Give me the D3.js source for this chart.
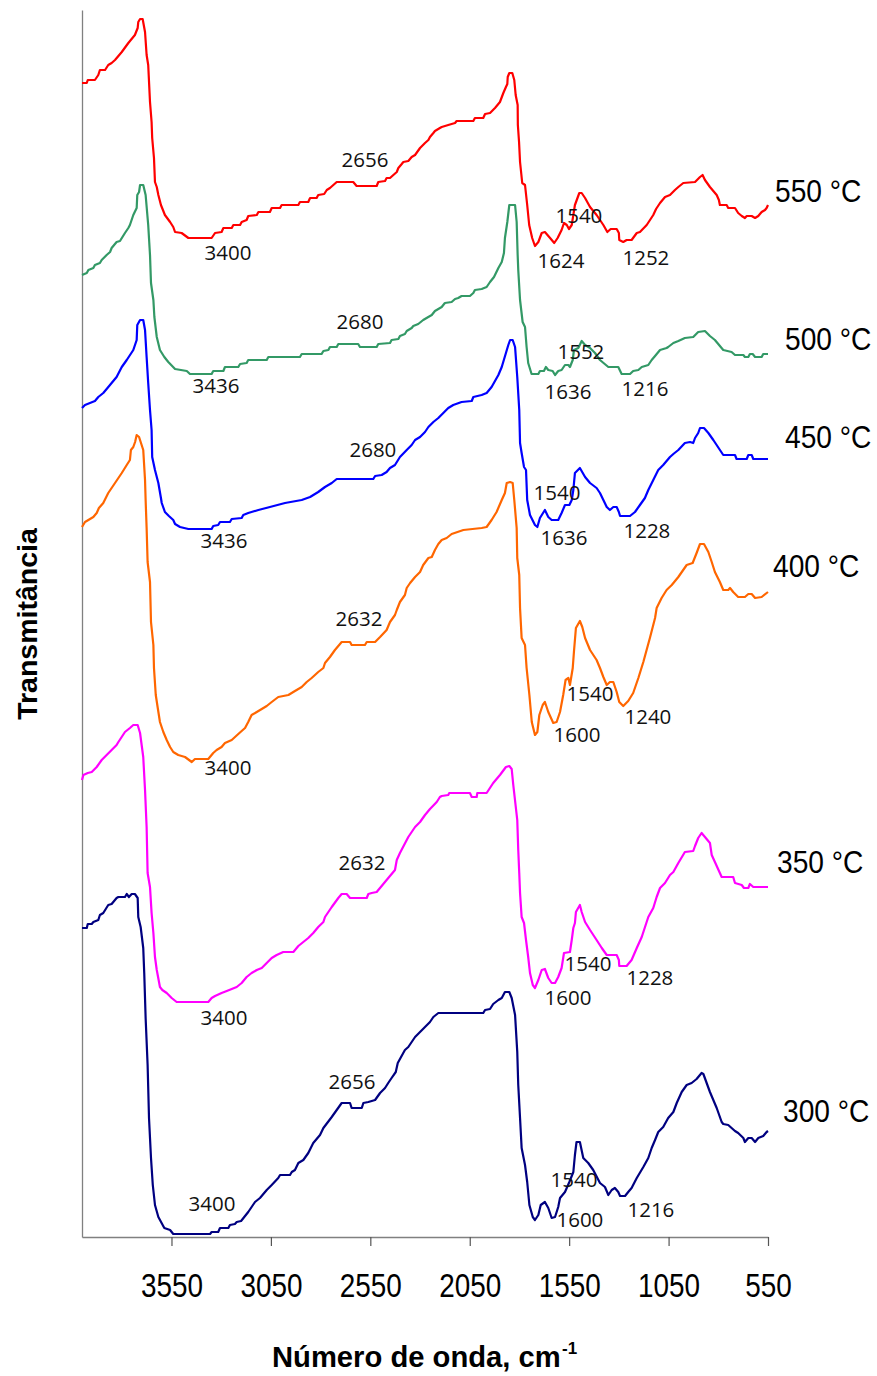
<!DOCTYPE html>
<html><head><meta charset="utf-8">
<script src="https://cdn.jsdelivr.net/npm/d3@7"></script>
<style>body{margin:0;background:#fff}svg{display:block}</style>
</head><body>
<svg id="c" width="877" height="1376"></svg>
<script>
// ---------- data (wavenumber cm-1, transmittance arbitrary offset units) ----------
const xTicks = [3550, 3050, 2550, 2050, 1550, 1050, 550];
const temperatures = ["550 °C", "500 °C", "450 °C", "400 °C", "350 °C", "300 °C"];
const colors = ["#ff0000", "#339966", "#0000ff", "#ff6600", "#ff00ff", "#000080"];
const tempLabelT = [103.5, 88.7, 78.9, 66.0, 36.4, 11.5];

const s550 = [[4000,115.4],[3976,115.4],[3971,115.7],[3935,115.7],[3918,116.2],[3910,116.7],[3884,116.7],[3868,117.2],[3851,117.4],[3834,117.7],[3800,118.5],[3767,119.4],[3734,120.2],[3720,120.9],[3717,121.5],[3708,121.8],[3695,121.8],[3683,120.5],[3675,118.2],[3667,117.2],[3658,113.5],[3650,111.5],[3647,109.9],[3638,107.9],[3633,105.5],[3624,105.0],[3616,104.2],[3603,103.2],[3583,102.2],[3557,101.5],[3541,101.0],[3532,100.5],[3499,100.4],[3465,99.9],[3348,99.9],[3331,100.4],[3298,100.5],[3289,100.9],[3247,100.9],[3239,101.2],[3205,101.2],[3197,101.5],[3172,101.7],[3164,102.1],[3121,102.2],[3113,102.5],[3055,102.5],[3046,102.9],[3004,102.9],[2996,103.2],[2912,103.2],[2904,103.5],[2862,103.5],[2853,103.9],[2820,103.9],[2812,104.2],[2782,104.3],[2769,104.7],[2753,104.9],[2719,105.5],[2636,105.5],[2619,105.1],[2518,105.1],[2510,105.5],[2476,105.6],[2468,105.9],[2451,105.9],[2417,106.5],[2409,106.9],[2392,107.3],[2384,107.5],[2359,107.6],[2342,108.0],[2325,108.2],[2300,108.9],[2275,109.4],[2258,109.7],[2250,110.0],[2233,110.4],[2225,110.6],[2200,110.9],[2191,111.0],[2158,111.2],[2124,111.4],[2116,111.6],[2032,111.6],[2024,111.9],[1982,111.9],[1973,112.3],[1948,112.4],[1923,112.9],[1898,113.5],[1881,114.4],[1868,115.0],[1861,115.3],[1859,116.0],[1851,116.4],[1836,116.4],[1826,115.7],[1819,114.2],[1809,113.2],[1808,111.2],[1802,109.5],[1797,107.5],[1786,105.4],[1772,105.2],[1761,103.2],[1751,101.2],[1736,99.9],[1722,99.1],[1705,99.5],[1688,100.4],[1672,100.5],[1646,99.9],[1625,99.4],[1608,99.9],[1588,100.7],[1576,101.4],[1562,101.2],[1551,100.8],[1537,101.2],[1521,103.2],[1499,104.4],[1487,104.4],[1470,103.9],[1445,103.0],[1412,102.2],[1378,101.2],[1358,100.5],[1341,100.8],[1311,100.8],[1300,100.4],[1298,99.7],[1278,99.5],[1261,99.7],[1236,99.7],[1210,100.4],[1194,100.5],[1160,101.2],[1127,102.2],[1113,102.8],[1093,103.4],[1068,104.0],[1043,104.2],[1018,104.7],[1001,105.0],[976,105.4],[917,105.5],[892,106.0],[879,106.2],[867,105.7],[842,105.0],[808,104.2],[797,103.7],[792,103.2],[758,103.2],[750,102.9],[716,102.9],[700,102.4],[682,102.1],[666,101.9],[657,102.1],[632,102.1],[615,101.9],[599,102.1],[582,102.5],[565,102.7],[557,102.9],[550,103.2]];

const s500 = [[4000,96.2],[3976,96.4],[3968,96.7],[3943,96.9],[3935,97.2],[3910,97.4],[3901,97.7],[3876,98.2],[3859,98.5],[3851,98.9],[3826,99.5],[3809,99.6],[3784,100.4],[3767,100.9],[3759,101.2],[3742,102.2],[3725,102.9],[3722,104.2],[3713,104.5],[3708,105.2],[3692,105.2],[3680,104.2],[3667,101.2],[3658,98.2],[3653,95.4],[3641,93.7],[3636,92.0],[3624,90.0],[3608,88.7],[3586,88.0],[3566,87.5],[3532,86.8],[3473,86.6],[3457,86.3],[3348,86.3],[3340,86.6],[3289,86.6],[3281,87.0],[3214,87.0],[3205,87.3],[3172,87.4],[3164,87.7],[3071,87.7],[3063,88.0],[2904,88.0],[2895,88.3],[2795,88.3],[2786,88.6],[2761,88.7],[2753,89.0],[2719,89.0],[2711,89.3],[2611,89.3],[2602,89.0],[2518,89.0],[2510,89.3],[2451,89.4],[2443,89.7],[2409,89.8],[2401,90.1],[2376,90.3],[2367,90.6],[2342,90.9],[2334,91.1],[2309,91.3],[2284,91.7],[2267,91.9],[2241,92.2],[2225,92.6],[2208,92.8],[2191,93.0],[2175,93.4],[2141,93.5],[2124,93.8],[2108,93.9],[2091,94.1],[2049,94.1],[2032,94.4],[2024,94.7],[1990,94.8],[1965,95.0],[1948,95.5],[1928,96.0],[1906,96.9],[1889,97.5],[1878,98.4],[1873,99.9],[1861,101.5],[1851,103.2],[1822,103.2],[1814,101.5],[1809,98.2],[1806,96.7],[1797,93.7],[1784,91.5],[1772,91.0],[1764,89.0],[1756,87.4],[1739,86.3],[1705,86.3],[1697,86.6],[1677,86.6],[1667,87.0],[1655,86.7],[1633,86.6],[1621,86.2],[1605,86.6],[1588,86.7],[1571,87.2],[1554,87.2],[1546,87.0],[1532,87.7],[1526,88.7],[1504,88.9],[1487,89.6],[1470,89.2],[1445,88.9],[1420,88.4],[1395,87.7],[1353,87.0],[1303,87.0],[1286,86.3],[1244,86.3],[1228,86.6],[1202,86.7],[1185,87.0],[1152,87.2],[1135,87.7],[1118,88.1],[1093,88.7],[1060,88.9],[1052,89.0],[1026,89.4],[1001,89.6],[968,89.9],[926,90.0],[901,90.5],[867,90.6],[842,90.1],[817,89.7],[775,88.7],[733,88.5],[716,88.2],[674,88.2],[666,88.0],[649,88.0],[641,88.3],[627,88.3],[615,88.0],[582,88.0],[574,88.3],[550,88.3]];

const s450 = [[4000,82.9],[3985,83.2],[3960,83.4],[3935,83.6],[3918,84.0],[3893,84.4],[3876,84.8],[3851,85.4],[3826,86.0],[3800,87.0],[3775,87.7],[3742,88.7],[3725,89.7],[3722,91.2],[3708,91.7],[3692,91.7],[3683,90.7],[3675,88.0],[3667,85.4],[3658,82.7],[3650,80.7],[3647,78.0],[3633,76.7],[3616,75.4],[3603,73.9],[3599,73.4],[3583,72.5],[3563,72.1],[3541,71.7],[3532,71.3],[3507,71.0],[3465,70.8],[3348,70.8],[3340,71.1],[3315,71.2],[3306,71.5],[3256,71.5],[3247,71.8],[3197,71.9],[3189,72.2],[3164,72.4],[3113,72.7],[3055,73.0],[2979,73.4],[2895,73.7],[2853,74.0],[2812,74.5],[2778,75.0],[2744,75.4],[2719,75.8],[2535,75.8],[2526,76.1],[2493,76.2],[2468,76.5],[2451,76.9],[2426,77.2],[2401,78.0],[2367,78.7],[2342,79.2],[2325,79.7],[2300,80.0],[2275,80.5],[2258,81.0],[2233,81.5],[2208,81.9],[2183,82.4],[2158,82.9],[2133,83.2],[2091,83.5],[2040,83.6],[2032,84.0],[1990,84.2],[1965,84.4],[1940,85.0],[1906,86.2],[1889,87.0],[1868,88.4],[1856,89.2],[1847,89.7],[1834,89.7],[1822,89.0],[1811,86.0],[1801,82.7],[1797,79.4],[1789,78.4],[1777,77.0],[1767,76.7],[1761,73.7],[1747,72.2],[1722,71.2],[1710,71.0],[1697,71.9],[1672,72.7],[1655,72.0],[1638,71.7],[1605,71.7],[1588,72.4],[1571,73.2],[1549,73.2],[1537,73.7],[1529,74.7],[1521,76.4],[1496,76.9],[1470,76.0],[1445,75.4],[1412,74.9],[1395,74.4],[1378,73.7],[1361,73.0],[1345,72.7],[1328,73.0],[1311,73.0],[1300,72.5],[1294,72.1],[1244,72.1],[1219,72.5],[1194,73.2],[1169,73.9],[1152,74.7],[1127,75.7],[1102,76.7],[1077,77.2],[1043,78.0],[1026,78.3],[1001,78.7],[968,79.4],[942,79.5],[926,79.4],[917,79.9],[901,80.4],[892,80.9],[872,80.9],[850,80.4],[825,79.7],[775,78.2],[716,78.2],[708,77.8],[657,77.8],[649,78.2],[632,78.2],[624,77.8],[550,77.8]];

const s400 = [[4000,71.0],[3985,71.5],[3968,71.7],[3943,72.0],[3926,72.4],[3915,72.9],[3893,73.4],[3868,74.4],[3834,75.4],[3800,76.4],[3775,77.2],[3759,77.7],[3754,78.7],[3742,79.0],[3733,79.5],[3725,80.2],[3713,80.0],[3692,78.7],[3683,75.7],[3680,73.7],[3675,70.9],[3670,67.5],[3658,65.5],[3653,61.5],[3641,59.2],[3638,56.9],[3629,54.2],[3619,52.9],[3608,51.5],[3591,50.5],[3574,49.7],[3557,49.0],[3541,48.5],[3516,48.2],[3482,48.0],[3448,47.5],[3432,47.8],[3365,47.8],[3340,48.4],[3323,48.7],[3298,49.0],[3281,49.4],[3247,49.7],[3214,50.3],[3180,50.9],[3164,51.5],[3147,52.2],[3121,52.5],[3096,52.8],[3071,53.1],[3046,53.5],[3013,54.0],[2962,54.2],[2929,54.6],[2895,55.0],[2870,55.5],[2845,55.9],[2812,56.5],[2786,56.9],[2778,57.4],[2753,58.0],[2728,58.7],[2694,59.5],[2652,59.5],[2644,59.2],[2577,59.2],[2568,59.5],[2526,59.5],[2501,60.0],[2468,60.7],[2451,61.5],[2426,62.2],[2417,62.7],[2401,63.5],[2376,64.2],[2367,64.9],[2350,65.4],[2325,66.0],[2300,66.5],[2284,67.2],[2258,67.9],[2241,68.0],[2225,68.7],[2208,69.3],[2191,69.7],[2166,69.9],[2141,70.3],[2082,70.7],[1990,70.9],[1965,71.0],[1940,71.7],[1915,72.5],[1889,73.7],[1873,74.4],[1864,75.4],[1847,75.5],[1834,75.4],[1826,73.7],[1814,70.9],[1811,67.9],[1801,66.2],[1797,62.9],[1789,59.9],[1772,59.2],[1764,56.9],[1750,54.2],[1738,51.5],[1722,50.2],[1710,50.5],[1700,52.2],[1683,53.2],[1672,53.5],[1655,52.5],[1630,51.4],[1613,51.5],[1596,52.5],[1580,54.2],[1568,55.7],[1554,55.9],[1546,55.2],[1532,56.9],[1526,58.5],[1516,60.9],[1496,61.6],[1484,61.0],[1470,59.9],[1445,58.7],[1412,57.7],[1395,56.9],[1378,56.0],[1361,55.2],[1345,55.5],[1328,55.5],[1311,54.5],[1298,53.5],[1278,53.1],[1253,53.6],[1228,54.4],[1202,55.9],[1177,57.5],[1144,59.9],[1118,61.9],[1110,62.9],[1085,63.9],[1060,64.7],[1034,65.2],[1001,66.0],[959,67.2],[929,67.4],[909,68.4],[892,69.3],[872,69.3],[850,68.5],[833,67.5],[817,66.5],[792,65.5],[775,64.7],[750,64.7],[741,64.9],[725,64.5],[700,64.0],[666,64.0],[649,64.3],[632,64.3],[615,63.9],[582,64.0],[550,64.5]];

const s350 = [[4000,45.7],[3993,46.2],[3971,46.4],[3951,46.5],[3926,47.0],[3901,47.7],[3876,48.2],[3851,48.7],[3826,49.2],[3817,49.5],[3784,50.5],[3759,50.9],[3742,51.2],[3720,51.2],[3708,50.4],[3700,49.2],[3692,48.0],[3683,44.7],[3675,41.0],[3670,36.4],[3658,35.0],[3650,32.4],[3641,30.4],[3633,28.0],[3624,26.7],[3608,25.0],[3596,24.7],[3574,24.4],[3549,23.9],[3524,23.5],[3365,23.5],[3348,23.9],[3331,24.1],[3298,24.4],[3272,24.6],[3247,24.8],[3222,25.0],[3197,25.4],[3172,26.0],[3147,26.4],[3121,26.7],[3096,26.9],[3071,27.4],[3046,27.9],[3021,28.2],[2988,28.5],[2937,28.5],[2912,29.1],[2887,29.5],[2862,29.9],[2837,30.4],[2812,31.0],[2786,31.5],[2778,32.0],[2744,33.0],[2711,33.9],[2694,34.3],[2669,34.3],[2652,33.9],[2568,33.9],[2560,34.3],[2543,34.4],[2518,34.5],[2468,35.7],[2426,36.7],[2417,37.7],[2401,38.4],[2359,40.0],[2325,41.0],[2300,41.5],[2275,42.2],[2250,42.8],[2216,43.5],[2200,44.0],[2191,44.1],[2158,44.2],[2153,44.4],[2049,44.4],[2040,44.0],[2015,44.0],[2012,44.4],[1965,44.4],[1932,45.4],[1898,46.2],[1868,47.0],[1851,47.1],[1839,46.8],[1831,45.2],[1811,41.7],[1806,38.7],[1801,36.4],[1797,34.4],[1789,32.0],[1777,31.4],[1767,29.7],[1756,28.0],[1747,26.4],[1733,25.2],[1722,24.9],[1705,25.7],[1688,26.7],[1672,26.8],[1655,25.9],[1638,25.4],[1621,25.4],[1605,26.0],[1588,26.9],[1576,28.4],[1546,28.5],[1537,29.7],[1529,30.9],[1521,31.4],[1516,32.5],[1496,33.2],[1487,32.5],[1470,31.5],[1445,30.7],[1412,29.7],[1386,28.9],[1361,28.2],[1311,28.2],[1300,27.7],[1298,27.1],[1261,27.1],[1236,27.7],[1210,28.9],[1185,30.0],[1152,32.0],[1127,32.9],[1110,34.0],[1093,34.9],[1068,35.4],[1043,36.2],[1026,36.5],[1001,37.4],[968,38.5],[926,38.6],[917,39.1],[901,39.9],[884,40.4],[867,40.0],[842,39.4],[833,38.2],[817,37.5],[783,36.0],[725,36.0],[716,35.4],[682,35.2],[671,34.9],[649,34.9],[641,35.3],[624,35.0],[550,35.0]];

const s300 = [[4000,30.9],[3976,30.9],[3971,31.3],[3951,31.3],[3943,31.5],[3918,31.7],[3910,32.2],[3893,32.4],[3868,33.2],[3851,33.3],[3826,33.9],[3817,34.0],[3784,34.0],[3775,34.3],[3764,34.0],[3750,34.3],[3734,34.3],[3720,33.9],[3717,32.0],[3705,31.0],[3692,28.9],[3687,26.4],[3680,21.9],[3670,17.2],[3663,11.9],[3653,7.9],[3644,5.2],[3633,3.2],[3616,2.0],[3586,0.9],[3557,0.7],[3541,0.3],[3356,0.3],[3348,0.5],[3315,0.5],[3306,0.9],[3264,0.9],[3256,1.2],[3231,1.3],[3222,1.5],[3200,1.6],[3164,2.5],[3130,3.5],[3105,3.9],[3071,4.7],[3046,5.2],[3013,5.9],[3004,6.2],[2954,6.2],[2945,6.5],[2929,6.7],[2912,7.4],[2887,7.7],[2862,8.4],[2837,9.4],[2803,10.2],[2786,10.9],[2744,12.0],[2694,13.4],[2652,13.4],[2644,12.9],[2593,12.9],[2585,13.4],[2560,13.5],[2526,13.7],[2501,14.4],[2476,14.9],[2460,15.4],[2443,15.9],[2422,16.5],[2412,17.4],[2376,18.7],[2359,19.0],[2325,20.0],[2300,20.5],[2275,21.0],[2250,21.5],[2233,22.0],[2208,22.4],[1982,22.4],[1973,22.7],[1948,22.8],[1932,23.3],[1906,23.7],[1889,23.9],[1873,24.5],[1851,24.5],[1839,23.9],[1822,22.2],[1811,18.5],[1806,15.2],[1797,11.9],[1789,8.9],[1772,7.2],[1761,5.5],[1750,3.2],[1733,2.0],[1722,1.7],[1705,2.2],[1693,3.2],[1672,3.5],[1655,2.9],[1638,1.9],[1621,2.0],[1605,3.0],[1596,3.9],[1571,4.5],[1549,5.5],[1529,6.5],[1521,8.2],[1513,9.5],[1496,9.5],[1479,7.9],[1454,7.4],[1429,6.7],[1395,5.4],[1370,5.0],[1353,4.2],[1336,4.7],[1320,4.9],[1303,4.5],[1294,4.1],[1269,4.1],[1253,4.5],[1236,4.9],[1210,5.9],[1177,7.0],[1152,7.9],[1135,8.9],[1118,9.7],[1102,10.5],[1077,11.0],[1052,11.9],[1026,12.5],[1009,13.4],[984,14.5],[959,15.2],[934,15.4],[909,15.8],[884,16.4],[875,16.3],[842,14.5],[808,12.9],[783,11.5],[775,11.3],[750,11.2],[716,10.6],[700,10.4],[674,9.9],[666,9.5],[649,9.9],[632,9.9],[615,9.5],[599,9.9],[574,10.1],[557,10.5],[550,10.6]];

// peak annotations: [label, wavenumber position, transmittance position]
const peaks550 = [["2656",2577,107.0],["3400",3266,97.7],["1540",1501,101.4],["1624",1591,96.9],["1252",1164,97.2]];
const peaks500 = [["2680",2602,90.8],["3436",3326,84.4],["1552",1491,87.8],["1636",1556,83.8],["1216",1169,84.1]];
const peaks450 = [["2680",2537,78.0],["3436",3286,68.9],["1540",1611,73.7],["1636",1576,69.2],["1228",1159,69.9]];
const peaks400 = [["2632",2607,61.1],["3400",3266,46.2],["1540",1445,53.6],["1600",1511,49.5],["1240",1154,51.3]];
const peaks350 = [["2632",2592,36.7],["3400",3286,21.2],["1540",1455,26.6],["1600",1556,23.2],["1228",1144,25.2]];
const peaks300 = [["2656",2642,14.8],["3400",3346,2.6],["1540",1526,5.0],["1600",1496,1.0],["1216",1139,2.0]];

const spectra = [s550, s500, s450, s400, s350, s300];
const peaks = [peaks550, peaks500, peaks450, peaks400, peaks350, peaks300];

// ---------- layout ----------
const svg = d3.select("#c");
const x = d3.scaleLinear().domain([4000, 550]).range([82, 768]);
const y = d3.scaleLinear().domain([0, 122.7]).range([1237, 10]);
const tempDx = [7, 17, 17, 5, 9, 15];
const FONT = "'Liberation Sans', Arial, sans-serif";

// y axis (line only)
const gy = svg.append("g").attr("transform", `translate(${x(4000)},0)`)
  .call(d3.axisLeft(y).tickValues([]).tickSizeOuter(0));
gy.select(".domain").attr("stroke", "#808080").attr("stroke-width", 1.3);

// x axis
const gx = svg.append("g").attr("transform", `translate(0,${y(0)})`)
  .call(d3.axisBottom(x).tickValues(xTicks).tickSize(9).tickSizeOuter(0).tickFormat(d3.format("d")));
gx.select(".domain").attr("stroke", "#808080").attr("stroke-width", 1.3);
gx.selectAll(".tick line").attr("stroke", "#555").attr("stroke-width", 1.2);
gx.selectAll(".tick text")
  .attr("y", 0).attr("dy", 0)
  .attr("transform", "translate(0,60) scale(0.845,1)")
  .attr("font-family", FONT)
  .attr("font-size", 33).attr("fill", "#000");

// curves
const line = d3.line().x(d => x(d[0])).y(d => y(d[1]));
spectra.forEach((s, i) => {
  svg.append("path").datum(s)
    .attr("fill", "none").attr("stroke", colors[i])
    .attr("stroke-width", 2.2).attr("stroke-linejoin", "round")
    .attr("d", line);
});

// peak labels
peaks.forEach(p => {
  svg.append("g").selectAll("text").data(p).join("text")
    .attr("x", d => x(d[1])).attr("y", d => y(d[2]))
    .attr("text-anchor", "middle")
    .attr("font-family", "'Open Sans', 'Noto Sans', sans-serif")
    .attr("font-size", 20.5).attr("fill", "#111")
    .text(d => d[0]);
});

// temperature labels
svg.append("g").selectAll("text").data(temperatures).join("text")
  .attr("transform", (d, i) => `translate(${x(550) + tempDx[i]},${y(tempLabelT[i])}) scale(0.88,1)`)
  .attr("font-family", FONT)
  .attr("font-size", 32).attr("fill", "#000")
  .text(d => d);

// axis titles
svg.append("text").attr("x", 272).attr("y", 1367)
  .attr("font-family", FONT)
  .attr("font-weight", "bold").attr("font-size", 29.2).attr("fill", "#000")
  .text("Número de onda, cm");
svg.append("text").attr("x", 562).attr("y", 1354)
  .attr("font-family", FONT)
  .attr("font-weight", "bold").attr("font-size", 17).attr("fill", "#000")
  .text("-1");

svg.append("text")
  .attr("transform", "translate(37,624) rotate(-90)")
  .attr("text-anchor", "middle")
  .attr("font-family", FONT)
  .attr("font-weight", "bold").attr("font-size", 28.5).attr("fill", "#000")
  .text("Transmitância");
</script>
</body></html>
